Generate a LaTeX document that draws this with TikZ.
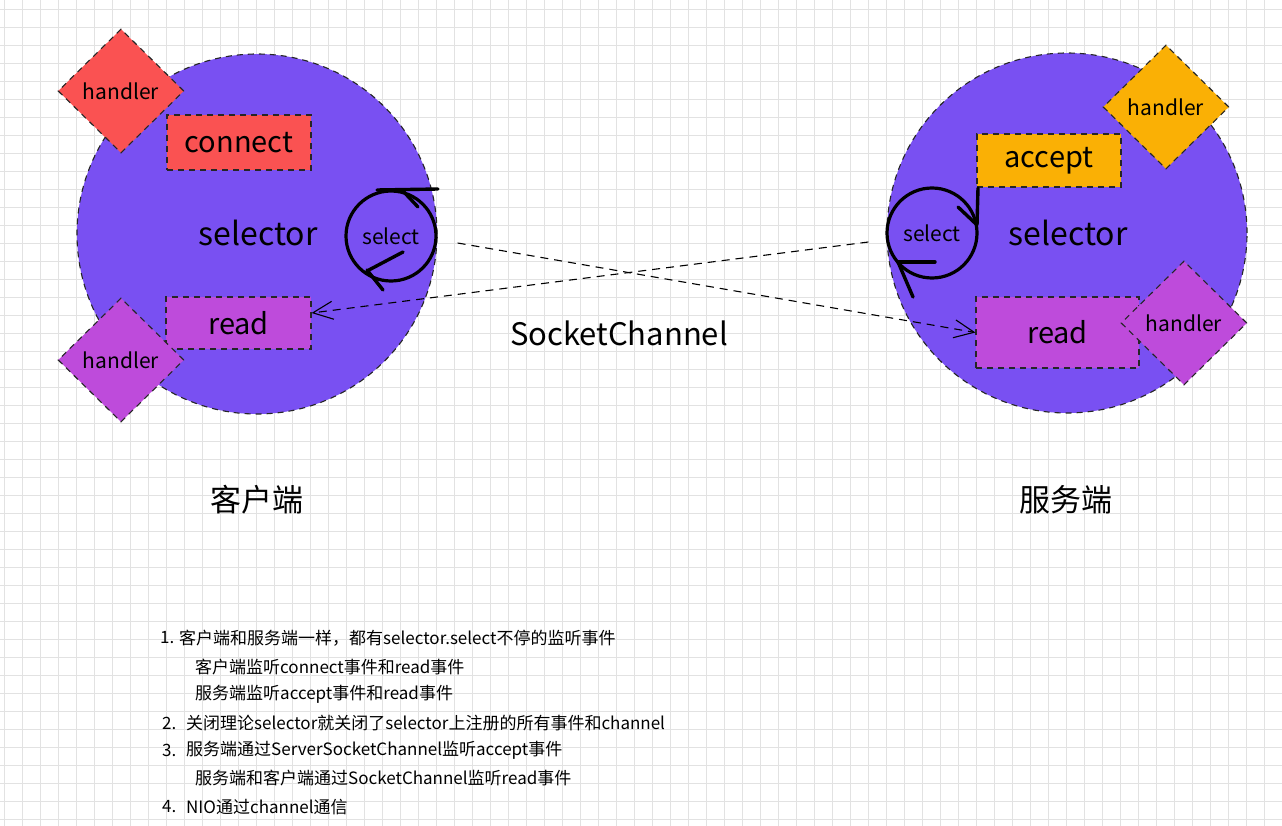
\documentclass[tikz,border=0pt]{standalone}
\usepackage{fontspec}
\setmainfont{Noto Sans CJK SC}
\usetikzlibrary{shapes.geometric,arrows.meta,calc}
\definecolor{cViolet}{HTML}{7950F2}
\definecolor{cRed}{HTML}{FA5252}
\definecolor{cGrape}{HTML}{BE4BDB}
\definecolor{cYellow}{HTML}{FAB005}
\definecolor{cGrid}{HTML}{E2E2E2}
\tikzset{
  gridline/.style={draw=cGrid, line width=1pt},
  dashline/.style={draw=black!85, line width=1.1pt, dash pattern=on 6pt off 5pt},
  bigcircle/.style={circle, dashline, fill=cViolet, minimum size=360pt, inner sep=0pt},
  evbox/.style={rectangle, dashline, inner sep=0pt, font=\fontsize{29}{34}\selectfont},
  hdiamond/.style={diamond, dashline, minimum width=126pt, minimum height=124pt, inner sep=0pt, font=\fontsize{21}{25}\selectfont},
  looprg/.style={circle, draw=black, line width=3.2pt, minimum size=90pt, inner sep=0pt, font=\fontsize{21}{25}\selectfont},
  loopstroke/.style={draw=black, line width=3.4pt, line cap=round},
  lbl/.style={inner sep=0pt, font=\fontsize{32}{38}\selectfont},
  sclbl/.style={inner sep=0pt, font=\fontsize{31}{37}\selectfont},
  cnlbl/.style={inner sep=0pt, font=\fontsize{31}{37}\selectfont},
  note/.style={inner sep=0pt, anchor=west, font=\fontsize{17}{20}\selectfont},
  conn/.style={draw=black, line width=1.1pt, dash pattern=on 8pt off 6pt,
     -{Straight Barb[length=20pt,width=18pt,line width=1.1pt]}},
}
\begin{document}
\begin{tikzpicture}[x=1pt,y=-1pt]
\useasboundingbox (0,0) rectangle (1282,826);
\fill[white] (0,0) rectangle (1282,826);
\foreach \i in {0,...,70} \draw[gridline] (4.7+18*\i,0) -- (4.7+18*\i,826);
\foreach \j in {0,...,45} \draw[gridline] (0,9.3+18*\j) -- (1282,9.3+18*\j);

% client side
\node[bigcircle] (cL) at (257,234) {};
\node[lbl] (selectorL) at (258,233) {selector};
\node[evbox, fill=cRed, minimum width=144pt, minimum height=55pt] (connect) at (239,142.5) {connect};
\node[evbox, fill=cGrape, minimum width=145pt, minimum height=52pt] (readL) at (238.5,323) {read};
\node[hdiamond, fill=cRed] (hL1) at (121,91) {handler};
\node[hdiamond, fill=cGrape] (hL2) at (121,360) {handler};
\node[looprg] (selL) at (391,236) {select};
\draw[loopstroke] ($(selL)+(-14,-46)$) -- ($(selL)+(47,-47)$);
\draw[loopstroke] ($(selL)+(11,-46)$) -- ($(selL)+(27,-29)$);
\draw[loopstroke] ($(selL)+(12,16)$) -- ($(selL)+(-24,35)$);
\draw[loopstroke] ($(selL)+(-24,34)$) -- ($(selL)+(-8,54)$);

% server side
\node[bigcircle] (cR) at (1067,233) {};
\node[lbl] (selectorR) at (1068,233) {selector};
\node[evbox, fill=cYellow, minimum width=144pt, minimum height=53pt] (accept) at (1049,160.5) {accept};
\node[evbox, fill=cGrape, minimum width=163pt, minimum height=71pt] (readR) at (1057.5,332.5) {read};
\node[hdiamond, fill=cYellow] (hR1) at (1166,107) {handler};
\node[hdiamond, fill=cGrape] (hR2) at (1184,323) {handler};
\node[looprg] (selR) at (932,233) {select};
\draw[loopstroke] ($(selR)+(46,-45)$) -- ($(selR)+(45,-8)$);
\draw[loopstroke] ($(selR)+(26,-26)$) -- ($(selR)+(44,-9)$);
\draw[loopstroke] ($(selR)+(-34,29)$) -- ($(selR)+(3,29)$);
\draw[loopstroke] ($(selR)+(-34,29)$) -- ($(selR)+(-19,64)$);

% connectors
\draw[conn] ($(selL.east)+(20,7)$) -- (readR.west);
\draw[conn] ($(selR.west)+(-17,9)$) -- ($(readL.east)+(0,-10)$);

\node[sclbl] (sock) at (619,333) {SocketChannel};
\node[cnlbl] (client) at (257,500) {客户端};
\node[cnlbl] (server) at (1066,500) {服务端};

% notes
\node[note] (n1) at (160,638) {1.};
\node[note] (t1) at (179,638) {客户端和服务端一样，都有selector.select不停的监听事件};
\node[note] (t2) at (195,667) {客户端监听connect事件和read事件};
\node[note] (t3) at (195,694) {服务端监听accept事件和read事件};
\node[note] (n2) at (162,723) {2.};
\node[note] (t4) at (186,723) {关闭理论selector就关闭了selector上注册的所有事件和channel};
\node[note] (n3) at (162,750) {3.};
\node[note] (t5) at (186,750) {服务端通过ServerSocketChannel监听accept事件};
\node[note] (t6) at (195,778) {服务端和客户端通过SocketChannel监听read事件};
\node[note] (n4) at (162,807) {4.};
\node[note] (t7) at (186,807) {NIO通过channel通信};
\end{tikzpicture}
\end{document}
